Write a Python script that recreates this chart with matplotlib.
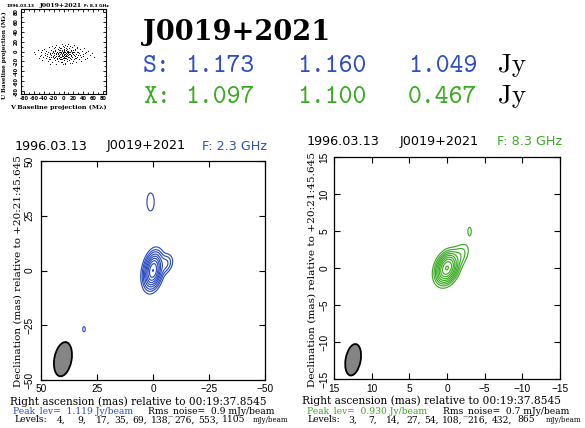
import numpy as np
import matplotlib
matplotlib.use("Agg")
import matplotlib.pyplot as plt
from matplotlib.patches import Ellipse

# ---------------- data ----------------
source = "J0019+2021"
date = "1996.03.13"
S_flux = ["1.173", "1.160", "1.049"]
X_flux = ["1.097", "1.100", "0.467"]

S_freq = "2.3 GHz"
X_freq = "8.3 GHz"
S_peak = "1.119"
X_peak = "0.930"
S_rms = "0.9"
X_rms = "0.7"
S_levels = [4, 9, 17, 35, 69, 138, 276, 553, 1105]
X_levels = [3, 7, 14, 27, 54, 108, 216, 432, 865]

# Gaussian source components (peak mJy/beam, RA mas, Dec mas, FWHM major, minor, PA deg)
S_comp_peak = [1000.0, 119.0, 20.0, 6.0, 4.4]
S_comp_ra = [0.0, 0.0, -5.5, 1.1, 30.8]
S_comp_dec = [0.0, 0.0, 3.0, 31.3, -26.8]
S_comp_maj = [6.0, 9.8, 6.0, 10.7, 6.2]
S_comp_min = [2.8, 4.7, 4.0, 4.2, 3.1]
S_comp_pa = [-10.0, -10.0, -20.0, 0.0, 0.0]

X_comp_peak = [830.0, 100.0, 12.0, 3.5]
X_comp_ra = [0.0, 0.0, -1.6, -3.0]
X_comp_dec = [0.0, 0.0, 1.6, 4.95]
X_comp_maj = [1.6, 2.5, 2.4, 2.3]
X_comp_min = [1.0, 1.6, 1.4, 0.95]
X_comp_pa = [-20.0, -20.0, -30.0, 0.0]

# restoring beams (RA, Dec, major, minor, PA)
S_beam = [40.2, -40.5, 15.8, 7.7, -10.0]
X_beam = [12.46, -12.4, 4.3, 2.0, -10.0]

# uv coverage points (V, U) in Mlambda
uv_v = [-52, -48, -45, -43, -40, -38, -36, -35, -33, -31, -30, -29, -28, -27, -26, -25, -24, -23, -22, -21,
        -20, -19, -18, -17, -16, -15, -15, -14, -13, -12, -12, -11, -10, -10, -9, -8, -8, -7, -6, -6,
        -5, -5, -4, -4, -3, -3, -2, -2, -1, -1, 0, 0, 1, 1, 2, 2, 3, 3, 4, 4,
        5, 5, 6, 6, 7, 7, 8, 8, 9, 9, 10, 10, 11, 11, 12, 13, 13, 14, 15, 16,
        16, 17, 18, 19, 20, 21, 22, 23, 24, 25, 26, 27, 28, 30, 31, 33, 34, 36, 38, 40,
        42, 44, 47, 50, 54, 58, -57, -60, -50, 62,
        -24, -22, -21, -20, -19, -18, -17, -16, -15, -14, -13, -12, -11, -10, -9, -9, -8, -7, -6, -5,
        -4, -4, -3, -2, -1, -1, 0, 0, 1, 2, 2, 3, 4, 4, 5, 6, 7, 7, 8, 9,
        10, 11, 12, 13, 14, 15, 16, 17, 18, 19, 20, 21, 22, 23, 24, -26, -28, -30, -32, -34,
        26, 28, 30, 32, 35, -37, -41, 39, 43, -46, 46, -3, 3, -8, 8, -18, 18, -27, 27, -44]
uv_u = [3, -10, -2, -18, 6, -8, -14, 2, -5, -20, 9, -11, -3, -16, 4, -7, 12, -22, -1, -12,
        7, -4, -17, 2, -9, 14, -25, -2, -13, 5, -6, -19, 10, -1, -10, 3, -15, -5, 8, -21,
        0, -11, 15, -7, 4, -16, -3, 11, -9, -26, 1, -13, 6, -5, -18, 9, -2, -10, 13, -23,
        3, -7, -14, 8, -1, -20, 5, -9, 16, -4, -12, 1, -17, 7, -6, 11, -24, -1, -10, 4,
        -15, -4, 9, -19, 0, -8, 13, -13, 3, -22, -5, 7, -11, -1, -16, 5, -7, -19, 2, -10,
        8, -4, -14, 1, -8, -3, -6, 0, -14, -12,
        -4, -9, 1, -14, -7, 3, -11, -3, -6, -16, 0, -9, -3, -14, 4, -7, -1, -12, -3, -16,
        2, -10, -6, -13, 0, -4, -8, -17, -1, -11, 3, -6, -14, 0, -3, -10, 2, -6, -16, -1,
        -7, -12, 0, -5, -13, 2, -8, -1, -12, 4, -5, -15, -2, -9, 6, -12, -6, -15, 0, -10,
        -13, 0, -8, -3, -12, -3, -12, -6, -15, -7, -1, -21, -25, 8, 11, 10, -24, -26, 10, 4]

# ---------------- layout helpers ----------------
W, H = 585, 428
fig = plt.figure(figsize=(W / 100, H / 100), dpi=100)
fig.patch.set_facecolor("white")
renderer = fig.canvas.get_renderer()

BLUE = "#2d4ec2"
GREEN = "#3aab22"


def P(x, y):
    return x / W, 1 - y / H


def add_ax(l, t, r, b):
    return fig.add_axes([l / W, 1 - b / H, (r - l) / W, (b - t) / H])


def fit_text(x, y, s, length, vertical=False, **kw):
    """place a text and scale its font so that it spans `length` pixels"""
    t = fig.text(*P(x, y), s, **kw)
    ext = t.get_window_extent(renderer)
    cur = ext.height if vertical else ext.width
    t.set_fontsize(t.get_fontsize() * length / cur)
    return t


def model(ra, dec, peak, x0, y0, maj, mnr, pa):
    img = np.zeros_like(ra)
    for p, xc, yc, a, b, th in zip(peak, x0, y0, maj, mnr, pa):
        t = np.deg2rad(th)
        dx, dy = ra - xc, dec - yc
        along = dx * np.sin(t) + dy * np.cos(t)
        across = dx * np.cos(t) - dy * np.sin(t)
        img += p * np.exp(-4 * np.log(2) * ((along / a) ** 2 + (across / b) ** 2))
    return img


TICKFONT = dict(family="Liberation Sans", size=7.3)
HEADFONT = dict(family="DejaVu Sans", size=9.2)
LABFAM = "DejaVu Serif"


def map_panel(box, lim, peak, ra0, dec0, maj, mnr, pa, levels, beam, color,
              ticks, ticklabels, xpad, ypad):
    ax = add_ax(*box)
    g = np.linspace(-lim * 1.1, lim * 1.1, 881)
    RA, DEC = np.meshgrid(g, g)
    img = model(RA, DEC, peak, ra0, dec0, maj, mnr, pa)
    ax.contour(RA, DEC, img, levels=levels, colors=color, linewidths=0.85)
    ax.add_patch(Ellipse((beam[0], beam[1]), width=beam[3], height=beam[2], angle=-beam[4],
                         facecolor="#858585", edgecolor="black", linewidth=1.3))
    ax.set_xlim(lim, -lim)
    ax.set_ylim(-lim, lim)
    ax.set_xticks(ticks, ticklabels, **TICKFONT)
    ax.set_yticks(ticks, ticklabels, rotation=90, va="center", **TICKFONT)
    ax.tick_params(direction="in", length=4, width=0.8, top=True, right=True)
    ax.tick_params(axis="x", pad=xpad)
    ax.tick_params(axis="y", pad=ypad)
    for s in ax.spines.values():
        s.set_linewidth(0.9)
    return ax


# ---------------- 2.3 GHz map ----------------
map_panel((41, 161, 265, 380), 50, S_comp_peak, S_comp_ra, S_comp_dec, S_comp_maj, S_comp_min,
          S_comp_pa, S_levels, S_beam, BLUE,
          [50, 25, 0, -25, -50], ["50", "25", "0", "\u221225", "\u221250"], 3.0, 4.5)

# ---------------- 8.3 GHz map ----------------
map_panel((334, 157, 560, 379), 15, X_comp_peak, X_comp_ra, X_comp_dec, X_comp_maj, X_comp_min,
          X_comp_pa, X_levels, X_beam, GREEN,
          [15, 10, 5, 0, -5, -10, -15],
          ["15", "10", "5", "0", "\u22125", "\u221210", "\u221215"], 3.6, 3.5)

# headers
for (x1, x2, x3, yh, freq, col) in [(15, 107, 202, 146, S_freq, BLUE), (307, 400, 497, 141.7, X_freq, GREEN)]:
    fig.text(*P(x1, yh), date, ha="left", va="center", **HEADFONT)
    fig.text(*P(x2, yh), source, ha="left", va="center", **HEADFONT)
    fig.text(*P(x3, yh), "F: " + freq, ha="left", va="center", color=col, **HEADFONT)

# axis labels
declab = "Declination (mas) relative to +20:21:45.645"
ralab = "Right ascension (mas) relative to 00:19:37.8545"
fit_text(18, 271, declab, 232, vertical=True, rotation=90, ha="center", va="center", family=LABFAM, size=7)
fit_text(312, 269.5, declab, 235, vertical=True, rotation=90, ha="center", va="center", family=LABFAM, size=7)
fit_text(10, 401.8, ralab, 257, ha="left", va="center", family=LABFAM, size=7)
fit_text(302, 400.8, ralab, 260, ha="left", va="center", family=LABFAM, size=7)

# footers
pk = fit_text(13, 411.5, "Peak_lev=  " + S_peak + " Jy/beam", 121, color=BLUE, ha="left", va="center",
              family=LABFAM, size=6)
SMALL = pk.get_fontsize()
fig.text(*P(148, 411.5), "Rms_noise=  " + S_rms + " mJy/beam", ha="left", va="center", family=LABFAM, size=SMALL)
fig.text(*P(307, 411.5), "Peak_lev=  " + X_peak + " Jy/beam", color=GREEN, ha="left", va="center",
         family=LABFAM, size=SMALL)
fig.text(*P(443, 411.5), "Rms_noise=  " + X_rms + " mJy/beam", ha="left", va="center", family=LABFAM, size=SMALL)


def levels_line(x0, xs, xunit, levs, y):
    fig.text(*P(x0, y), "Levels:", ha="left", va="center", family=LABFAM, size=SMALL)
    for i, (xv, v) in enumerate(zip(xs, levs)):
        s = str(v) + ("," if i < len(levs) - 1 else "")
        fig.text(*P(xv, y), s, ha="left", va="center", family=LABFAM, size=SMALL)
    fit_text(xunit, y, "mJy/beam", 35, ha="left", va="center", family=LABFAM, size=SMALL)


levels_line(14, [57, 77, 96, 114, 132, 151, 174, 198, 222], 253, S_levels, 420)
levels_line(307, [348, 368, 386, 406, 424, 442, 467, 492, 517], 546, X_levels, 420)

# ---------------- uv coverage ----------------
axuv = add_ax(21, 9, 106, 94)
axuv.scatter(uv_v, uv_u, s=0.45, c="black", marker="o", linewidths=0)
axuv.set_xlim(-86, 86)
axuv.set_ylim(-86, 86)
uvt = [-80, -60, -40, -20, 0, 20, 40, 60, 80]
uvl = [str(v) for v in uvt]
axuv.set_xticks(uvt, uvl, family="DejaVu Sans", size=3.6, weight="bold")
axuv.set_yticks(uvt, uvl, rotation=90, va="center", family="DejaVu Sans", size=3.6, weight="bold")
axuv.set_xticks(np.arange(-80, 81, 10), minor=True)
axuv.set_yticks(np.arange(-80, 81, 10), minor=True)
axuv.tick_params(which="both", direction="in", top=True, right=True, width=0.6, pad=1.5)
axuv.tick_params(which="major", length=2.5)
axuv.tick_params(which="minor", length=1.5)
for s in axuv.spines.values():
    s.set_linewidth(0.8)
fig.text(*P(20, 6), date, ha="center", va="center", family="DejaVu Sans", size=3.2, weight="bold")
fit_text(40, 6, source, 43, ha="left", va="center", family="DejaVu Serif", size=5.2, weight="bold")
fig.text(*P(96, 6), "F: 8.3 GHz", ha="center", va="center", family="DejaVu Sans", size=3.2, weight="bold")
fit_text(4.5, 55, "U Baseline projection (M\u03bb)", 88, vertical=True, rotation=90, ha="center", va="center",
         family="DejaVu Serif", size=4.6, weight="bold")
fit_text(10, 107, "V Baseline projection (M\u03bb)", 96, ha="left", va="center",
         family="DejaVu Serif", size=4.6, weight="bold")

# ---------------- summary text ----------------
fit_text(143, 40, source, 187, ha="left", va="baseline", family="DejaVu Serif", weight="bold", size=20)
for yb, lab, vals, col in [(71.7, "S:", S_flux, BLUE), (103.3, "X:", X_flux, GREEN)]:
    fig.text(*P(143, yb), lab, ha="left", va="baseline", family="cmtt10", size=19, color=col)
    for xv, v in zip([185, 297, 408], vals):
        fig.text(*P(xv, yb), v, ha="left", va="baseline", family="cmtt10", size=19, color=col)
    fig.text(*P(498, yb), "Jy", ha="left", va="baseline", family="cmr10", size=19.5)

fig.savefig("out.png", dpi=100)
